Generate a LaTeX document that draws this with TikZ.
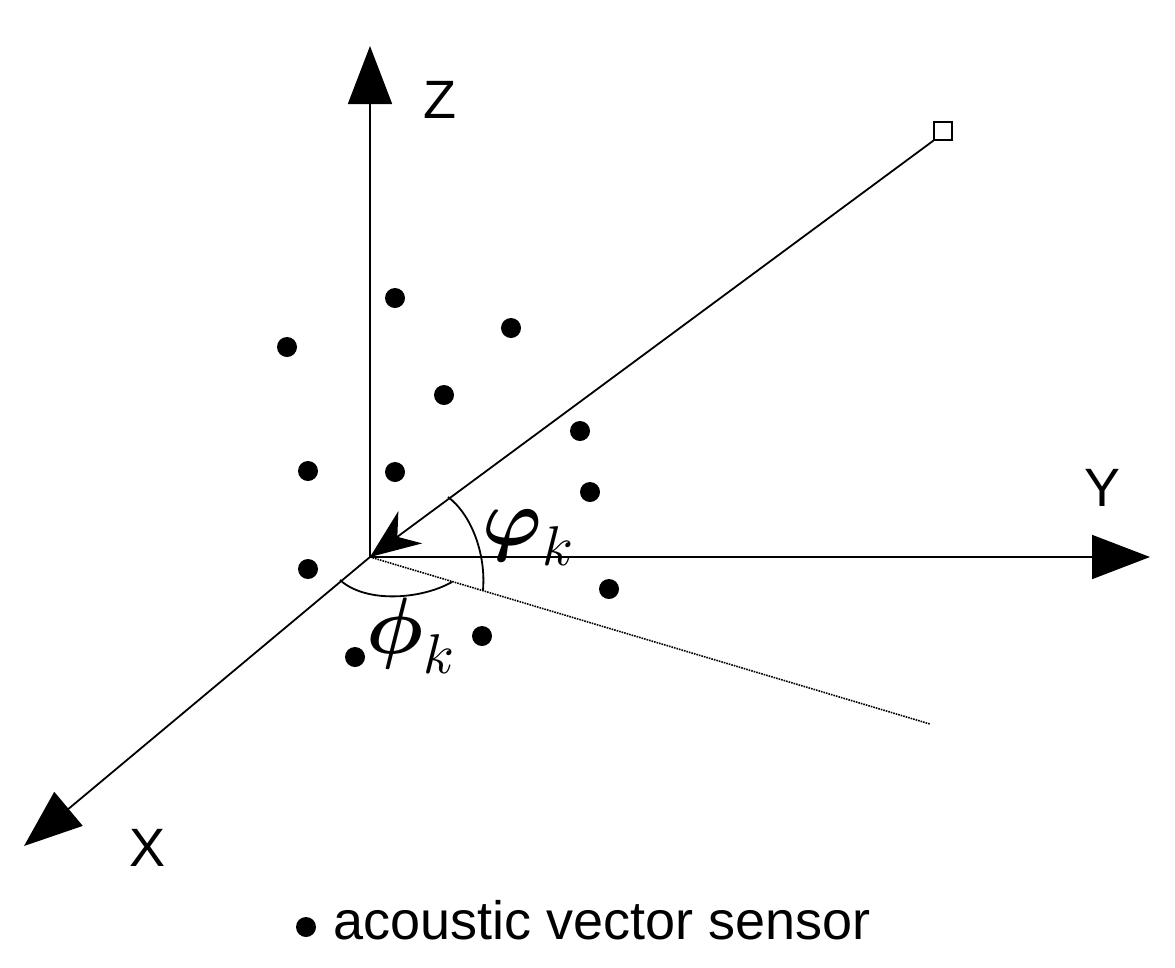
\documentclass[tikz,border=0pt]{standalone}
\usepackage{fontspec}
\setmainfont{Liberation Sans}
\usepackage{unicode-math}
\usetikzlibrary{arrows.meta}
\begin{document}
\begin{tikzpicture}[x=1pt,y=-1pt,
  ax/.style={line width=1.8pt,-{Triangle[length=58pt,width=44pt]}},
  sens/.style={circle,fill=black,inner sep=0pt,minimum size=20pt},
  lbl/.style={font=\fontsize{54}{60}\selectfont},
  gk/.style={font=\fontsize{80}{86}\selectfont}]
\useasboundingbox (0,0) rectangle (1175,967);
\coordinate (O) at (370,557);
\coordinate (Zt) at (370,46);
\coordinate (Yt) at (1150,557);
\coordinate (Xt) at (24,846);
\coordinate (D) at (930,724);
\node[draw,fill=white,line width=1.5pt,minimum size=18pt,inner sep=0pt] (S) at (943,131) {};
\draw[ax] (O) -- (Zt);
\draw[ax] (O) -- (Yt);
\draw[ax] (O) -- (Xt);
\draw[line width=1.8pt,-{Stealth[length=50pt,width=40pt,inset=16pt]}] (S.south west) -- (O);
\draw[line width=1.6pt,densely dotted] (O) -- (D);
\coordinate (a1) at (448,497);
\coordinate (a2) at (483,590);
\coordinate (b1) at (340,580);
\coordinate (b2) at (452,582);
\draw[line width=1.8pt] (a1) .. controls (472,515) and (486,555) .. (a2);
\draw[line width=1.8pt] (b1) .. controls (365,603) and (420,600) .. (b2);
\node[lbl] (Z) at (440,100) {Z};
\node[lbl] (Y) at (1102,488) {Y};
\node[lbl] (X) at (148,848) {X};
\node[gk] (vp) at (528,538) {$\symbf{\varphi}_k$};
\node[gk] (ph) at (410,636) {$\symbf{\phi}_k$};
\foreach \n/\p in {1/{395,298},2/{511,328},3/{287,347},4/{444,395},5/{580,431},6/{308,471},7/{395,472},8/{590,492},9/{308,569},10/{609,589},11/{482,636},12/{355,657}}
  \node[sens] (s\n) at (\p) {};
\node[sens] (ld) at (306,927) {};
\node[lbl,anchor=west] (lt) at (330,920) {acoustic vector sensor};
\end{tikzpicture}
\end{document}
